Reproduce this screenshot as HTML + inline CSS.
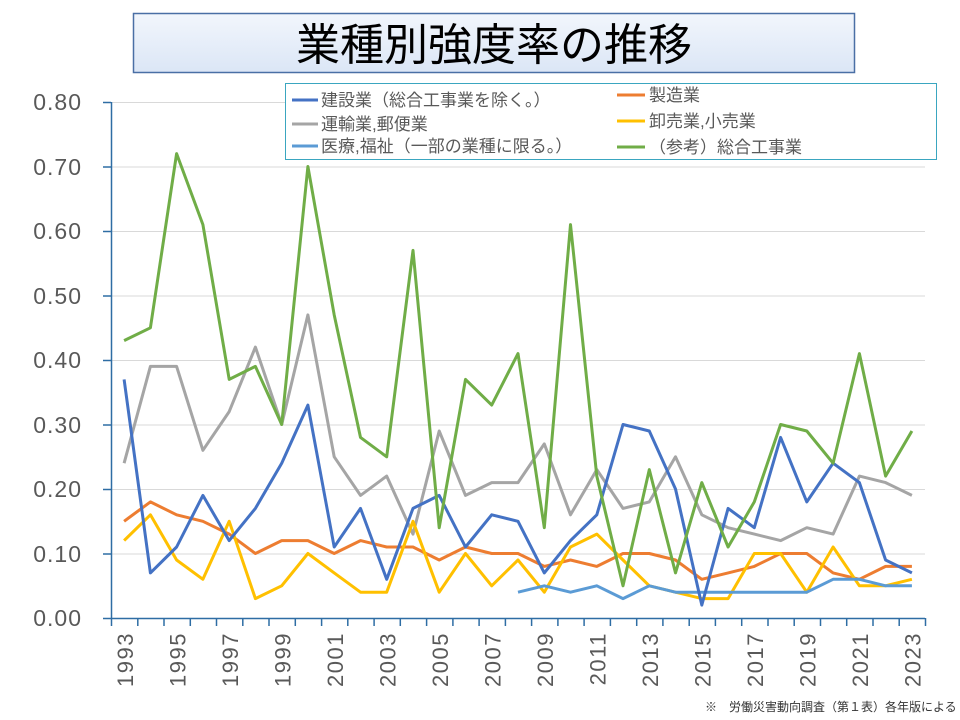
<!DOCTYPE html>
<html><head><meta charset="utf-8"><style>
body{margin:0;background:#fff;width:960px;height:720px;overflow:hidden;font-family:"Liberation Sans","Noto Sans CJK JP",sans-serif;}
</style></head><body>
<svg width="960" height="720" xmlns="http://www.w3.org/2000/svg" style="position:absolute;left:0;top:0">
<defs><linearGradient id="tg" x1="0" y1="0" x2="0" y2="1"><stop offset="0" stop-color="#f2f6fc"/><stop offset="1" stop-color="#dbe6f6"/></linearGradient></defs>
<g stroke="#d9d9d9" stroke-width="1">
<line x1="111" x2="925" y1="102.5" y2="102.5"/><line x1="111" x2="925" y1="167" y2="167"/>
<line x1="111" x2="925" y1="231.5" y2="231.5"/><line x1="111" x2="925" y1="296" y2="296"/>
<line x1="111" x2="925" y1="360.5" y2="360.5"/><line x1="111" x2="925" y1="425" y2="425"/>
<line x1="111" x2="925" y1="489.5" y2="489.5"/><line x1="111" x2="925" y1="554" y2="554"/>
</g>
<g id="series" fill="none" stroke-width="3" stroke-linejoin="round"></g>
<g stroke="#2e6da4" stroke-width="1.5" id="axes">
<line x1="111.5" y1="102" x2="111.5" y2="619"/><line x1="103" y1="618.5" x2="925" y2="618.5"/>
<line x1="103" x2="111" y1="102.5" y2="102.5"/><line x1="103" x2="111" y1="167" y2="167"/>
<line x1="103" x2="111" y1="231.5" y2="231.5"/><line x1="103" x2="111" y1="296" y2="296"/>
<line x1="103" x2="111" y1="360.5" y2="360.5"/><line x1="103" x2="111" y1="425" y2="425"/>
<line x1="103" x2="111" y1="489.5" y2="489.5"/><line x1="103" x2="111" y1="554" y2="554"/>
</g>
<g font-size="23" fill="#595959" text-anchor="end" letter-spacing="1">
<text x="82" y="110">0.80</text><text x="82" y="175">0.70</text><text x="82" y="239">0.60</text>
<text x="82" y="304">0.50</text><text x="82" y="368">0.40</text><text x="82" y="433">0.30</text>
<text x="82" y="497">0.20</text><text x="82" y="562">0.10</text><text x="82" y="626">0.00</text>
</g>
<g font-size="22" fill="#595959" text-anchor="end" letter-spacing="1.5">
<text transform="translate(133,632) rotate(-90)">1993</text>
<text transform="translate(185.5,632) rotate(-90)">1995</text>
<text transform="translate(238,632) rotate(-90)">1997</text>
<text transform="translate(290.5,632) rotate(-90)">1999</text>
<text transform="translate(343,632) rotate(-90)">2001</text>
<text transform="translate(395.5,632) rotate(-90)">2003</text>
<text transform="translate(448,632) rotate(-90)">2005</text>
<text transform="translate(500.5,632) rotate(-90)">2007</text>
<text transform="translate(553,632) rotate(-90)">2009</text>
<text transform="translate(605.5,632) rotate(-90)">2011</text>
<text transform="translate(658,632) rotate(-90)">2013</text>
<text transform="translate(710.5,632) rotate(-90)">2015</text>
<text transform="translate(763,632) rotate(-90)">2017</text>
<text transform="translate(815.5,632) rotate(-90)">2019</text>
<text transform="translate(868,632) rotate(-90)">2021</text>
<text transform="translate(920.5,632) rotate(-90)">2023</text>
</g>
<rect x="133.5" y="13.5" width="721" height="59" fill="url(#tg)" stroke="#4a6fa5" stroke-width="1.5"/>
<text x="494" y="60" font-size="44" text-anchor="middle" fill="#000" font-family="Liberation Sans,Noto Sans CJK JP,sans-serif">業種別強度率の推移</text>
<rect x="285.5" y="83.5" width="651" height="76" fill="#fff" stroke="#3aa6c0" stroke-width="1"/>
<g stroke-width="3">
<line x1="292" x2="318" y1="100" y2="100" stroke="#4472c4"/>
<line x1="292" x2="318" y1="124" y2="124" stroke="#a5a5a5"/>
<line x1="292" x2="318" y1="146" y2="146" stroke="#5b9bd5"/>
<line x1="617" x2="645" y1="95" y2="95" stroke="#ed7d31"/>
<line x1="617" x2="645" y1="121" y2="121" stroke="#ffc000"/>
<line x1="617" x2="645" y1="147" y2="147" stroke="#70ad47"/>
</g>
<g font-size="17" fill="#595959">
<text x="321" y="106">建設業（総合工事業を除く。）</text>
<text x="321" y="130">運輸業,郵便業</text>
<text x="321" y="152">医療,福祉（一部の業種に限る。）</text>
<text x="649" y="101">製造業</text>
<text x="649" y="127">卸売業,小売業</text>
<text x="649" y="153">（参考）総合工事業</text>
</g>
<text x="705" y="711" font-size="12" fill="#333">※　労働災害動向調査（第１表）各年版による</text>
</svg>
<script>
var S=[
["#a5a5a5",0,[.24,.39,.39,.26,.32,.42,.30,.47,.25,.19,.22,.13,.29,.19,.21,.21,.27,.16,.23,.17,.18,.25,.16,.14,.13,.12,.14,.13,.22,.21,.19]],
["#ed7d31",0,[.15,.18,.16,.15,.13,.10,.12,.12,.10,.12,.11,.11,.09,.11,.10,.10,.08,.09,.08,.10,.10,.09,.06,.07,.08,.10,.10,.07,.06,.08,.08]],
["#ffc000",0,[.12,.16,.09,.06,.15,.03,.05,.10,.07,.04,.04,.15,.04,.10,.05,.09,.04,.11,.13,.09,.05,.04,.03,.03,.10,.10,.04,.11,.05,.05,.06]],
["#5b9bd5",15,[.04,.05,.04,.05,.03,.05,.04,.04,.04,.04,.04,.04,.06,.06,.05,.05]],
["#4472c4",0,[.37,.07,.11,.19,.12,.17,.24,.33,.11,.17,.06,.17,.19,.11,.16,.15,.07,.12,.16,.30,.29,.20,.02,.17,.14,.28,.18,.24,.21,.09,.07]],
["#70ad47",0,[.43,.45,.72,.61,.37,.39,.30,.70,.47,.28,.25,.57,.14,.37,.33,.41,.14,.61,.22,.05,.23,.07,.21,.11,.18,.30,.29,.24,.41,.22,.29]]];
var g=document.getElementById('series'),ns="http://www.w3.org/2000/svg",step=(925-111)/31;
S.forEach(function(s){var p=s[2].map(function(v,i){return (111+step*(i+s[1]+0.5)).toFixed(1)+","+(618-v*645).toFixed(1)}).join(" ");
var e=document.createElementNS(ns,"polyline");e.setAttribute("points",p);e.setAttribute("stroke",s[0]);g.appendChild(e);});
var a=document.getElementById('axes');
for(var i=0;i<=31;i++){var l=document.createElementNS(ns,"line");var x=(111.5+step*i).toFixed(1);
l.setAttribute("x1",x);l.setAttribute("x2",x);l.setAttribute("y1",618);l.setAttribute("y2",626);a.appendChild(l);}
</script>
</body></html>
